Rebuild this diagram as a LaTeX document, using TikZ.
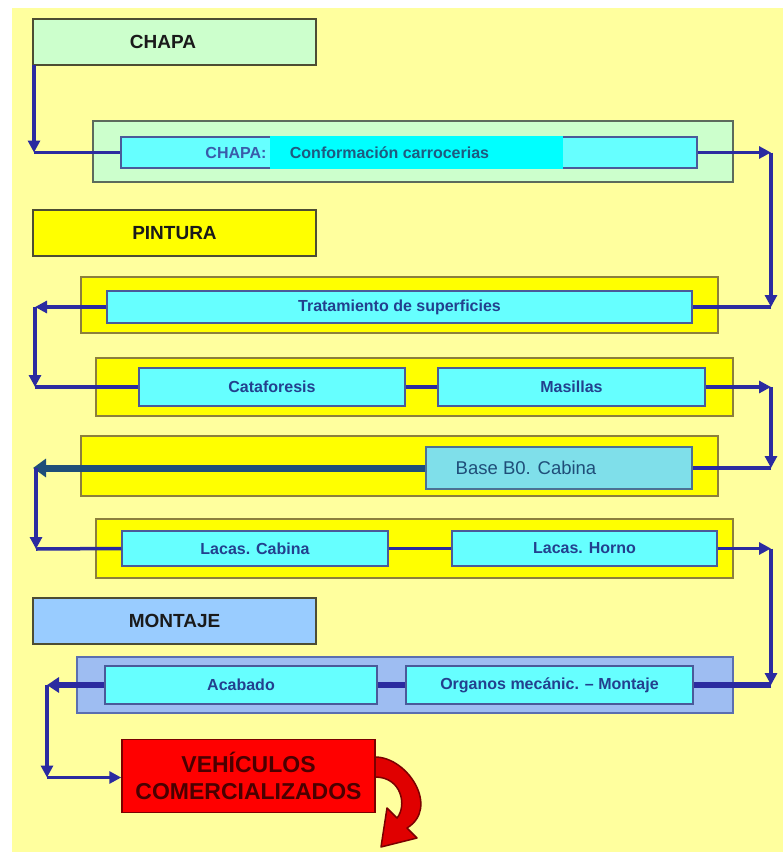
\documentclass[tikz,border=0pt]{standalone}
\usepackage{fontspec}
\setmainfont{Liberation Sans}
\usetikzlibrary{arrows.meta}
\definecolor{bgyel}{HTML}{FFFF9E}
\definecolor{grn}{HTML}{CCFFCC}
\definecolor{yel}{HTML}{FFFF00}
\definecolor{lblue}{HTML}{99CCFF}
\definecolor{gblue}{HTML}{9EBDF2}
\definecolor{icyan}{HTML}{66FFFF}
\definecolor{hcyan}{HTML}{00FFFF}
\definecolor{bcyan}{HTML}{7FDFEA}
\definecolor{navy}{HTML}{2B2BA0}
\definecolor{steel}{HTML}{1F4E79}
\definecolor{hdrborder}{HTML}{4D4D33}
\definecolor{yborder}{HTML}{8C7F3C}
\definecolor{gborder}{HTML}{5C6B5C}
\definecolor{bborder}{HTML}{5A6FB0}
\definecolor{iborder}{HTML}{4A5A9A}
\definecolor{itext}{HTML}{23408E}
\definecolor{ttext}{HTML}{1E5A80}
\definecolor{ctext}{HTML}{3A5BAA}
\definecolor{htext}{HTML}{1A1A1A}
\definecolor{vred}{HTML}{FF0000}
\definecolor{dred}{HTML}{7A0000}
\definecolor{vtext}{HTML}{4A0000}
\begin{document}
\begin{tikzpicture}[x=1pt,y=-1pt,
  hdr/.style={draw=hdrborder, line width=1.5pt, minimum width=283pt, minimum height=46pt, inner sep=0pt, font=\fontsize{19}{22}\selectfont\bfseries, text=htext},
  grp/.style={line width=1.5pt, inner sep=0pt},
  ibox/.style={draw=iborder, line width=1.5pt, fill=icyan, inner sep=0pt, font=\fontsize{16}{18}\selectfont\bfseries, text=itext},
  ln/.style={draw=navy, line width=3.5pt},
  arr/.style={ln, -{Triangle[length=12pt,width=12pt]}},
  thk/.style={draw=navy, line width=6pt},
  thkarr/.style={thk, -{Triangle[length=12pt,width=15pt]}}
]
\useasboundingbox (0,0) rectangle (783,852);
\fill[bgyel] (12,8) rectangle (783,852);

% headers
\node[hdr, fill=grn] (hChapa) at (174.5,42) {\hspace*{-23pt}CHAPA};
\node[hdr, fill=yel] (hPintura) at (174.5,233) {PINTURA};
\node[hdr, fill=lblue] (hMontaje) at (174.5,621) {MONTAJE};

% group boxes
\node[grp, draw=gborder, fill=grn, minimum width=640pt, minimum height=61pt] (gChapa) at (413,151.5) {};
\node[grp, draw=yborder, fill=yel, minimum width=637pt, minimum height=56pt] (g2) at (399.5,305) {};
\node[grp, draw=yborder, fill=yel, minimum width=637pt, minimum height=58pt] (g3) at (414.5,387) {};
\node[grp, draw=yborder, fill=yel, minimum width=637pt, minimum height=60pt] (g4) at (399.5,466) {};
\node[grp, draw=yborder, fill=yel, minimum width=637pt, minimum height=59pt] (g5) at (414.5,548.5) {};
\node[grp, draw=bborder, fill=gblue, minimum width=656pt, minimum height=56pt] (g6) at (405,685) {};

% inner boxes
\node[ibox, minimum width=576pt, minimum height=31pt] (iChapa) at (409,152.5) {};
\node[fill=hcyan, inner sep=0pt, minimum width=293pt, minimum height=32.5pt, font=\fontsize{16}{18}\selectfont\bfseries, text=ttext] (hl) at (416.5,152.5) {\hspace*{-54pt}Conformación carrocerias};
\node[inner sep=0pt, font=\fontsize{16}{18}\selectfont\bfseries, text=ctext] (chapaLbl) at (236,152.5) {CHAPA:};
\node[ibox, minimum width=585pt, minimum height=32pt] (t1) at (399.5,307) {Tratamiento de superficies};
\node[ibox, minimum width=266pt, minimum height=38pt] (cat) at (272,387) {Cataforesis};
\node[ibox, minimum width=267pt, minimum height=38pt] (mas) at (571.5,387) {Masillas};
\node[ibox, draw=steel!80, fill=bcyan, minimum width=266pt, minimum height=42pt, font=\fontsize{18.5}{20}\selectfont, text=steel] (base) at (559,468) {\hspace*{-66pt}Base B0. Cabina};
\node[ibox, minimum width=266pt, minimum height=35pt] (lc) at (255,548.5) {Lacas. Cabina};
\node[ibox, minimum width=265pt, minimum height=35pt] (lh) at (584.5,548.5) {Lacas. Horno};
\node[ibox, minimum width=272pt, minimum height=38pt] (acab) at (241,685) {Acabado};
\node[ibox, minimum width=287pt, minimum height=38pt] (org) at (549.5,685) {Organos mecánic. -- Montaje};

% final box
\node[draw=dred, line width=1.5pt, fill=vred, minimum width=253pt, minimum height=73pt, inner sep=0pt, align=center, font=\fontsize{23}{27}\selectfont\bfseries, text=vtext] (veh) at (248.5,776) {VEHÍCULOS\\COMERCIALIZADOS};

% corner coordinates
\coordinate (c1) at (34,152.5);
\coordinate (c2) at (771,152.5);
\coordinate (c3) at (771,307);
\coordinate (c4) at (35,307);
\coordinate (c5) at (35,387);
\coordinate (c6) at (771,387);
\coordinate (c7) at (771,468);
\coordinate (c8) at (33,468);
\coordinate (c9) at (36,549);
\coordinate (c10) at (771,548.5);
\coordinate (c11) at (771,685);
\coordinate (c12) at (47,685);
\coordinate (c13) at (47,777.5);
\coordinate (hs) at (34,65);
\coordinate (c8b) at (36,468);

% connectors
\draw[arr] (hs) -- (c1);
\draw[ln] (c1) -- (iChapa.west);
\draw[arr] (iChapa.east) -- (c2);
\draw[arr] (c2) -- (c3);
\draw[ln] (c3) -- (t1.east);
\draw[arr] (t1.west) -- (c4);
\draw[arr] (c4) -- (c5);
\draw[ln] (c5) -- (cat.west);
\draw[ln] (cat.east) -- (mas.west);
\draw[arr] (mas.east) -- (c6);
\draw[arr] (c6) -- (c7);
\draw[ln] (c7) -- (base.east);
\draw[draw=steel, line width=7pt, -{Triangle[length=13pt,width=18pt]}] (base.west) -- (c8);
\draw[arr] (c8b) -- (c9);
\draw[ln] (c9) -- (lc.west);
\draw[ln] (lc.east) -- (lh.west);
\draw[arr] (lh.east) -- (c10);
\draw[arr] (c10) -- (c11);
\draw[thk] (c11) -- (org.east);
\draw[thk] (org.west) -- (acab.east);
\draw[thkarr] (acab.west) -- (c12);
\draw[arr] (c12) -- (c13);
\draw[arr] (c13) -- (veh.west |- c13);

% curved red arrow
\path[fill=vred!88!black, draw=dred, line width=1.5pt, line join=round]
  (375,757) .. controls (408,757) and (440,808) .. (407,828)
  -- (417,838) -- (381,847) -- (387,808) -- (397,818)
  .. controls (407,806) and (402,777) .. (375,777) -- cycle;
\end{tikzpicture}
\end{document}
